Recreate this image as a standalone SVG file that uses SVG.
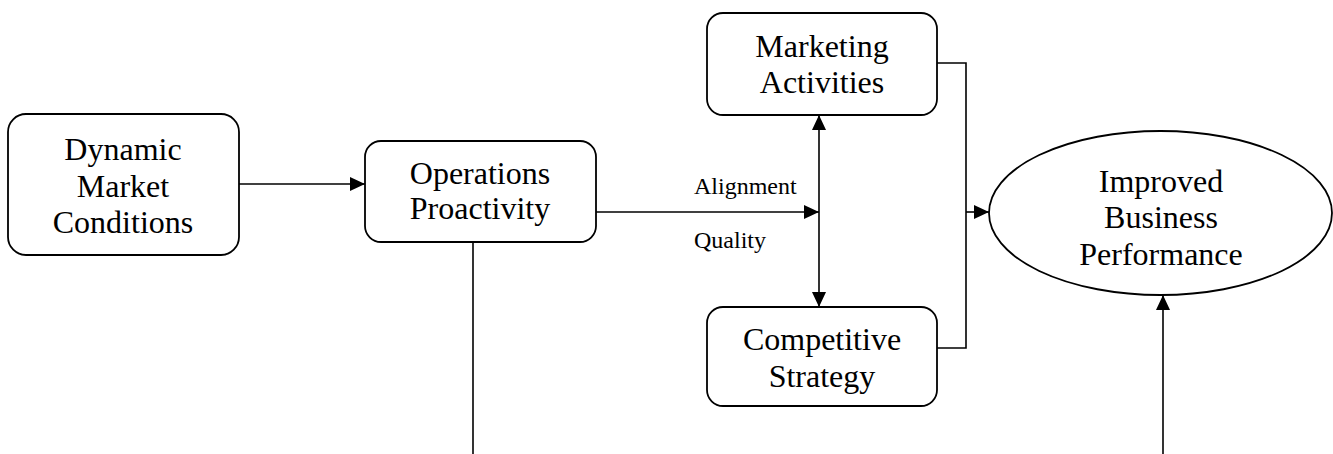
<svg xmlns="http://www.w3.org/2000/svg" width="1333" height="454" viewBox="0 0 1333 454">
  <style>
    .box { fill: #fff; stroke: #000; stroke-width: 1.8; }
    .line { fill: none; stroke: #000; stroke-width: 1.6; }
    .t { font-family: "Liberation Serif", "Times New Roman", serif; font-size: 32px; fill: #000; text-anchor: middle; }
    .lbl { font-family: "Liberation Serif", "Times New Roman", serif; font-size: 24px; fill: #000; }
  </style>
  <defs>
    <marker id="arrow" markerUnits="userSpaceOnUse" markerWidth="15" markerHeight="14" refX="15" refY="7" orient="auto-start-reverse">
      <path d="M0,0 L15,7 L0,14 Z" fill="#000"/>
    </marker>
  </defs>
  <rect width="1333" height="454" fill="#fff"/>

  <g id="connectors">
    <!-- Dynamic -> Operations -->
    <line class="line" x1="239" y1="184" x2="365" y2="184" marker-end="url(#arrow)"/>
    <!-- Operations -> alignment junction -->
    <line class="line" x1="596" y1="212" x2="819" y2="212" marker-end="url(#arrow)"/>
    <!-- Marketing <-> Competitive -->
    <line class="line" x1="819" y1="115" x2="819" y2="307" marker-start="url(#arrow)" marker-end="url(#arrow)"/>
    <!-- Bracket joining Marketing and Competitive -->
    <polyline class="line" points="937,63 966,63 966,348 937,348"/>
    <line class="line" x1="966" y1="212" x2="989" y2="212" marker-end="url(#arrow)"/>
    <!-- Lines from below -->
    <line class="line" x1="473" y1="242" x2="473" y2="454"/>
    <line class="line" x1="1163" y1="454" x2="1163" y2="295" marker-end="url(#arrow)"/>
    <text class="lbl" x="694" y="194">Alignment</text>
    <text class="lbl" x="694" y="248">Quality</text>
  </g>

  <g id="dynamic-market">
    <rect class="box" x="8" y="114" width="231" height="141" rx="18" ry="18"/>
    <text class="t" x="123" y="160">Dynamic</text>
    <text class="t" x="123" y="197">Market</text>
    <text class="t" x="123" y="233">Conditions</text>
  </g>

  <g id="operations-proactivity">
    <rect class="box" x="365" y="141" width="231" height="101" rx="16" ry="16"/>
    <text class="t" x="480" y="184">Operations</text>
    <text class="t" x="480" y="219">Proactivity</text>
  </g>

  <g id="marketing-activities">
    <rect class="box" x="707" y="13" width="230" height="102" rx="16" ry="16"/>
    <text class="t" x="822" y="57">Marketing</text>
    <text class="t" x="822" y="93">Activities</text>
  </g>

  <g id="competitive-strategy">
    <rect class="box" x="707" y="307" width="230" height="99" rx="16" ry="16"/>
    <text class="t" x="822" y="350">Competitive</text>
    <text class="t" x="822" y="387">Strategy</text>
  </g>

  <g id="business-performance">
    <ellipse class="box" cx="1160.5" cy="213" rx="171.5" ry="82"/>
    <text class="t" x="1161" y="192">Improved</text>
    <text class="t" x="1161" y="228">Business</text>
    <text class="t" x="1161" y="265">Performance</text>
  </g>
</svg>
